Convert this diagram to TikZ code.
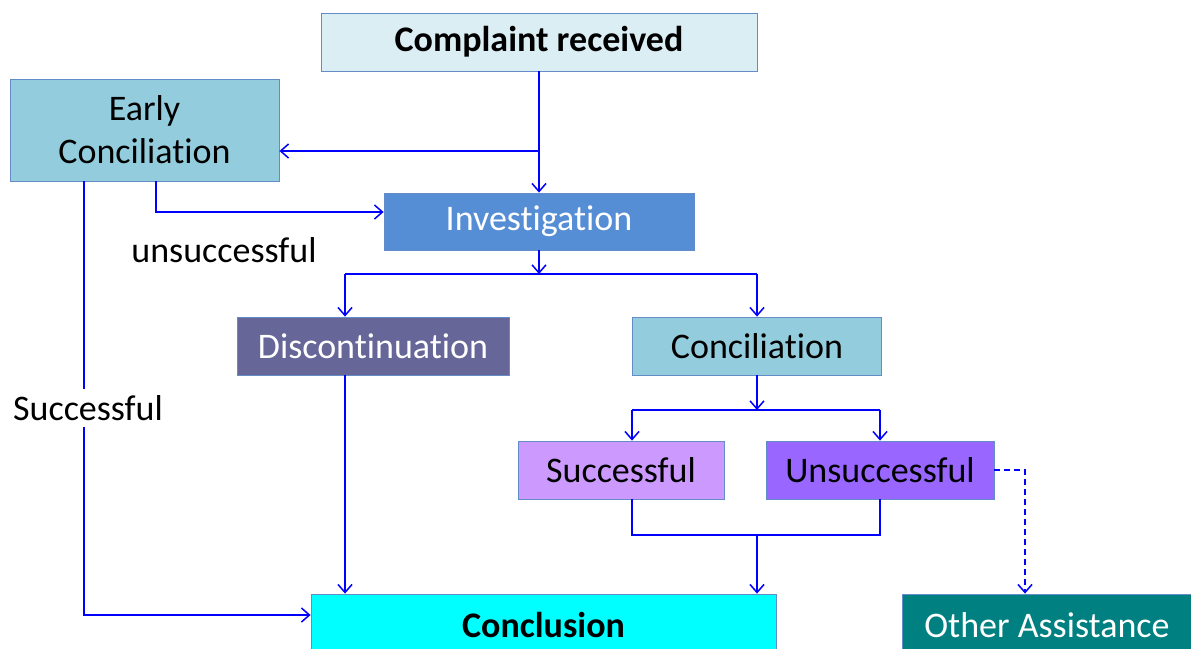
\documentclass[tikz,border=0pt]{standalone}
\usepackage{fontspec}
\setmainfont[RawFeature={-liga;-clig;-dlig;-calt}]{Carlito}
\usetikzlibrary{arrows.meta}
\definecolor{bord}{RGB}{100,140,200}
\definecolor{lblue}{RGB}{219,238,244}
\definecolor{mblue}{RGB}{147,205,221}
\definecolor{invblue}{RGB}{85,142,213}
\definecolor{disc}{RGB}{102,102,153}
\definecolor{lpurple}{RGB}{204,153,255}
\definecolor{dpurple}{RGB}{153,102,255}
\definecolor{teal2}{RGB}{0,128,128}
\definecolor{cyan2}{RGB}{0,255,255}
\definecolor{lineblue}{RGB}{0,0,255}
\tikzset{
  box/.style={draw=bord, line width=0.8pt, inner sep=0pt, align=center,
    font=\fontsize{36}{43}\selectfont},
  arr/.style={draw=lineblue, line width=1.5pt, -{Straight Barb[length=8pt,width=14pt,line width=1.5pt]}},
  ln/.style={draw=lineblue, line width=1.5pt},
  lbl/.style={inner sep=0pt, font=\fontsize{36}{43}\selectfont}
}
\begin{document}
\begin{tikzpicture}[x=1pt,y=-1pt]
\useasboundingbox (0,0) rectangle (1191,648);
\clip (0,0) rectangle (1191,648);
\fill[white] (0,0) rectangle (1191,648);
% boxes
\node[box, fill=lblue, minimum width=436pt, minimum height=58pt] (cr) at (539,42) {\bfseries Complaint received};
\node[box, fill=mblue, minimum width=269pt, minimum height=102pt] (ec) at (144.5,130) {Early\\Conciliation};
\node[box, fill=invblue, text=white, minimum width=310pt, minimum height=57pt] (inv) at (539,221.5) {Investigation};
\node[box, fill=disc, text=white, minimum width=272pt, minimum height=58pt] (dis) at (373,346) {Discontinuation};
\node[box, fill=mblue, minimum width=249pt, minimum height=58pt] (con) at (757,346) {Conciliation};
\node[box, fill=lpurple, minimum width=206pt, minimum height=58pt] (suc) at (621,470) {Successful};
\node[box, fill=dpurple, minimum width=228pt, minimum height=58pt] (uns) at (880,470) {Unsuccessful};
\node[box, fill=cyan2, minimum width=465pt, minimum height=62pt] (concl) at (543.5,625) {\bfseries Conclusion};
\node[box, fill=teal2, text=white, minimum width=290pt, minimum height=62pt] (oa) at (1047,625) {Other Assistance};
% labels
\node[lbl] (lu) at (224,250) {unsuccessful};
\node[lbl, inner ysep=6pt] (ls) at (88,408) {Successful};
% helper coordinates
\coordinate (j1) at (539,151);
\coordinate (ea) at (156,181);
\coordinate (eb) at (156,212);
\coordinate (ec1) at (84,181);
\coordinate (ec2) at (84,615);
\coordinate (j2) at (539,274);
\coordinate (d1) at (345,274);
\coordinate (c1) at (757,274);
\coordinate (j3) at (757,410);
\coordinate (s3) at (632,410);
\coordinate (u3) at (880,410);
\coordinate (s4) at (632,535);
\coordinate (u4) at (880,535);
\coordinate (j4) at (757,535);
\coordinate (da) at (345,375);
\coordinate (dd) at (1025,470);
% connectors
\draw[arr] (cr.south) -- (inv.north);
\draw[arr] (j1) -- (j1 -| ec.east);
\draw[arr] (ea) -- (eb) -- (eb -| inv.west);
\draw[ln] (ec1) -- (ec1 |- ls.north);
\draw[arr] (ec1 |- ls.south) -- (ec2) -- (ec2 -| concl.west);
\draw[arr] (inv.south) -- (j2);
\draw[ln] (d1) -- (c1);
\draw[arr] (d1) -- (d1 |- dis.north);
\draw[arr] (c1) -- (c1 |- con.north);
\draw[arr] (con.south) -- (j3);
\draw[ln] (s3) -- (u3);
\draw[arr] (s3) -- (s3 |- suc.north);
\draw[arr] (u3) -- (u3 |- uns.north);
\draw[ln] (s3 |- suc.south) -- (s4) -- (u4) -- (u3 |- uns.south);
\draw[arr] (j4) -- (j4 |- concl.north);
\draw[arr] (da) -- (da |- concl.north);
\draw[arr, dashed, dash pattern=on 6pt off 4pt] (uns.east) -- (dd) -- (dd |- oa.north);
\end{tikzpicture}
\end{document}
